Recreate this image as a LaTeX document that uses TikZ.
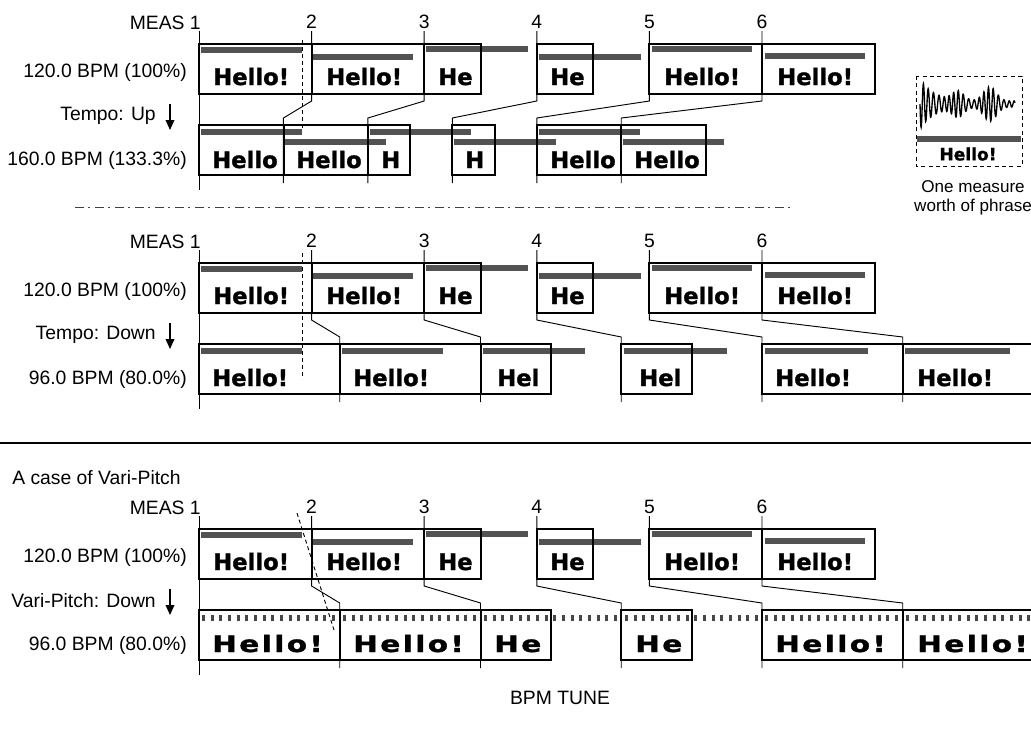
\documentclass[tikz,border=0pt]{standalone}
\usepackage{fontspec}
\usepackage{graphicx}
\setmainfont{Liberation Sans}
\newfontfamily\hfont{DejaVu Sans}[BoldFeatures={FakeBold=1.3}]
\usetikzlibrary{arrows.meta}
\newcommand\VH{H\kern1.4pt e\kern1.4pt l\kern1.4pt l\kern1.4pt o\kern1.4pt !}
\newcommand\VHe{H\kern1.4pt e}
\tikzset{
  lab/.style={font=\fontsize{14.5}{17}\selectfont, inner sep=0pt},
  hel/.style={font=\hfont\bfseries\fontsize{17}{18}\selectfont, inner sep=0pt, anchor=base west},
  pbar/.style={line width=4pt, black!68},
  dbar/.style={line width=4.5pt, black!72, dash pattern=on 2.2pt off 4.3pt},
  pbox/.style={line width=1.5pt},
  mline/.style={line width=0.7pt},
  dline/.style={line width=0.7pt, dash pattern=on 3pt off 2.25pt},
  darr/.style={line width=1.1pt, -{Triangle[length=7.5pt,width=6.5pt]}},
}
% common part of a section: labels, measure lines, 120 BPM row
\newcommand\SecCommon[3]{%
  \node[lab, anchor=east] (meas) at (201,0) {MEAS 1};
  \foreach \k in {2,...,6} \node[lab] (n\k) at ({199+112.6*(\k-1)},-1) {\k};
  \node[lab, anchor=east] (r1) at (187,49) {120.0 BPM (100\%)};
  \node[lab, anchor=east] (tl) at (156,93) {#2};
  \coordinate (a1) at (170,81);
  \coordinate (a2) at (170,107);
  \draw[darr] (a1) -- (a2);
  \node[lab, anchor=east] (r2) at (187,137) {#3};
  \draw[mline] (199,8) -- (199,167);
  \foreach \k in {1,...,5}
    \draw[mline] ({199+112.6*\k},8) -- ({199+112.6*\k},78) -- ({199+#1*\k},95) -- ({199+#1*\k},160);
  \foreach \xa/\xb/\yo in {201/302/6,313/413/13,426/528/5,539/641/13,652/752/5,765/865/12}
    \draw[pbar] (\xa,21+\yo) -- (\xb,21+\yo);
  \draw[pbox] (199,21) rectangle (311.6,71) (311.6,21) rectangle (424.2,71)
    (424.2,21) rectangle (480.5,71) (536.8,21) rectangle (593.1,71)
    (649.4,21) rectangle (762,71) (762,21) rectangle (874.6,71);
  \node[hel] (t1) at (213,62) {Hello!};
  \node[hel] (t2) at (326,62) {Hello!};
  \node[hel] (t3) at (438,62) {He};
  \node[hel] (t4) at (550,62) {He};
  \node[hel] (t5) at (664,62) {Hello!};
  \node[hel] (t6) at (777,62) {Hello!};
}
\newcommand\SlowBoxes{%
  \draw[pbox] (199,102) rectangle (339.75,152) (339.75,102) rectangle (480.5,152)
    (480.5,102) rectangle (550.9,152) (621.25,102) rectangle (691.6,152)
    (762,102) rectangle (902.75,152) (902.75,102) rectangle (1043.5,152);
}
\begin{document}
\begin{tikzpicture}[x=0.75pt,y=-0.75pt]
\useasboundingbox (0,0) rectangle (1031,729);
\clip (0,0) rectangle (1031,729);

% ---------- Tempo up ----------
\begin{scope}[shift={(0,23)}, name prefix=A-]
  \SecCommon{84.45}{Tempo: Up}{160.0 BPM (133.3\%)}
  \foreach \xa/\xb/\yo in {201/302/7,285/386/17,370/471/7,454/556/17,539/640/7,623/724/17}
    \draw[pbar] (\xa,102+\yo) -- (\xb,102+\yo);
  \draw[pbox] (199,102) rectangle (283.5,152) (283.5,102) rectangle (368,152)
    (368,102) rectangle (410.2,152) (452.4,102) rectangle (494.6,152)
    (537,102) rectangle (621.3,152) (621.3,102) rectangle (705.8,152);
  \node[hel] (b1) at (212,145) {Hello};
  \node[hel] (b2) at (296,145) {Hello};
  \node[hel] (b3) at (381,145) {H};
  \node[hel] (b4) at (465,145) {H};
  \node[hel] (b5) at (550,145) {Hello};
  \node[hel] (b6) at (634,145) {Hello};
  \coordinate (d1) at (302,17);
  \coordinate (d2) at (302,105);
  \draw[dline] (d1) -- (d2);
\end{scope}

% ---------- Tempo down ----------
\begin{scope}[shift={(0,242)}, name prefix=B-]
  \SecCommon{140.75}{Tempo: Down}{96.0 BPM (80.0\%)}
  \foreach \xa/\xb in {201/302,342/443,483/585,624/727,765/868,905/1010}
    \draw[pbar] (\xa,109) -- (\xb,109);
  \SlowBoxes
  \node[hel] (b1) at (212,144) {Hello!};
  \node[hel] (b2) at (353,144) {Hello!};
  \node[hel] (b3) at (497,144) {Hel};
  \node[hel] (b4) at (639,144) {Hel};
  \node[hel] (b5) at (775,144) {Hello!};
  \node[hel] (b6) at (917,144) {Hello!};
  \coordinate (d1) at (302,11);
  \coordinate (d2) at (302,137);
  \draw[dline] (d1) -- (d2);
\end{scope}

% ---------- separators ----------
\coordinate (s1) at (75,207);
\coordinate (s2) at (790,207);
\draw[line width=0.6pt, black!75, dash pattern=on 6.5pt off 3.5pt on 1.5pt off 3.5pt] (s1) -- (s2);
\coordinate (h1) at (0,443);
\coordinate (h2) at (1031,443);
\draw[line width=1.5pt] (h1) -- (h2);
\node[lab, anchor=west] (case) at (12,478) {A case of Vari-Pitch};

% ---------- Vari-Pitch ----------
\begin{scope}[shift={(0,508)}, name prefix=C-]
  \SecCommon{140.75}{Vari-Pitch: Down}{96.0 BPM (80.0\%)}
  \foreach \xa/\xb in {202/336,343/478,484/619,625/760,765/900,906/1040}
    \draw[dbar] (\xa,110) -- (\xb,110);
  \SlowBoxes
  \node[hel] (b1) at (212,144) {\scalebox{1.3}[1]{\VH}};
  \node[hel] (b2) at (353,144) {\scalebox{1.3}[1]{\VH}};
  \node[hel] (b3) at (494,144) {\scalebox{1.3}[1]{\VHe}};
  \node[hel] (b4) at (635,144) {\scalebox{1.3}[1]{\VHe}};
  \node[hel] (b5) at (775,144) {\scalebox{1.3}[1]{\VH}};
  \node[hel] (b6) at (917,144) {\scalebox{1.3}[1]{\VH}};
  \coordinate (d1) at (297,5);
  \coordinate (d2) at (334,122);
  \draw[dline] (d1) -- (d2);
\end{scope}

\node[lab] (tune) at (560,698) {BPM TUNE};

% ---------- one measure icon ----------
\draw[line width=0.6pt, dash pattern=on 3pt off 2.5pt] (916,76) rectangle (1022,166);
\draw[line width=1pt] plot[domain=0:95, samples=420]
  ({920+\x}, {104 + (3 + 22*exp(-\x/14) + 14*exp(-((\x-70)/9)^2) + 9*exp(-((\x-38)/8)^2))*sin(\x*72 + 40*sin(\x*11))});
\draw[pbar] (917,139) -- (1021,139);
\node[hel, anchor=center, font=\hfont\bfseries\fontsize{12.8}{14}\selectfont] (ih) at (968,154) {Hello!};
\node[lab, font=\fontsize{12.8}{14}\selectfont] (om1) at (973,187) {One measure};
\node[lab, font=\fontsize{12.8}{14}\selectfont] (om2) at (973,207) {worth of phrase};
\end{tikzpicture}
\end{document}
